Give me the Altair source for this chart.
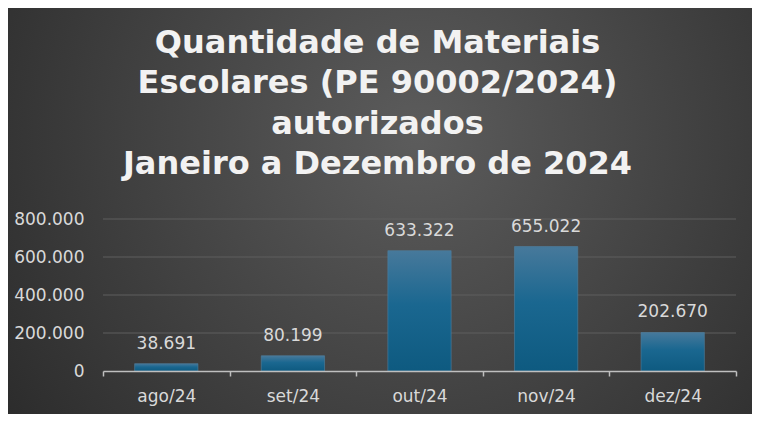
import altair as alt
import pandas as pd

months = ["ago/24", "set/24", "out/24", "nov/24", "dez/24"]
values = [38691, 80199, 633322, 655022, 202670]
y_ticks = [0, 200000, 400000, 600000, 800000]
title_lines = [
    "Quantidade de Materiais",
    "Escolares (PE 90002/2024)",
    "autorizados",
    "Janeiro a Dezembro de 2024",
]

df = pd.DataFrame({"mes": months, "qtd": values})
grid_df = pd.DataFrame({"qtd": y_ticks[1:]})

W, H = 633, 152
PAD = {"left": 95, "top": 211, "right": 16, "bottom": 43}


def x_enc():
    return alt.X(
        "mes:N",
        sort=months,
        scale=alt.Scale(paddingInner=0, paddingOuter=0),
        axis=alt.Axis(
            title=None,
            labelAngle=0,
            tickBand="extent",
            domainColor="#bfbfbf",
            domainWidth=1.5,
            tickColor="#bfbfbf",
            tickWidth=1.5,
            tickSize=5,
            labelColor="#d9d9d9",
            labelFontSize=17,
            labelFont="DejaVu Sans",
            labelPadding=12,
            grid=False,
            zindex=1,
        ),
    )


def y_enc():
    return alt.Y(
        "qtd:Q",
        scale=alt.Scale(domain=[0, 800000], nice=False),
        axis=alt.Axis(
            title=None,
            values=y_ticks,
            format=",d",
            domain=False,
            ticks=False,
            grid=False,
            labelOverlap=False,
            labelColor="#d9d9d9",
            labelFontSize=17,
            labelFont="DejaVu Sans",
            labelPadding=19,
            zindex=1,
        ),
    )


bg = alt.Chart(pd.DataFrame({"a": [0]})).mark_rect(
    fill=alt.RadialGradient(
        gradient="radial",
        x1=0.55, y1=0.4, r1=0,
        x2=0.55, y2=0.4, r2=0.75,
        stops=[
            alt.GradientStop(color="#5c5c5c", offset=0),
            alt.GradientStop(color="#262626", offset=1),
        ],
    )
).encode(
    x=alt.value(-PAD["left"]),
    x2=alt.value(W + PAD["right"]),
    y=alt.value(-PAD["top"]),
    y2=alt.value(H + PAD["bottom"]),
)

grid = alt.Chart(grid_df).mark_rule(color="#5e5e5e", strokeWidth=1).encode(
    y=y_enc()
)

bars = alt.Chart(df).mark_bar(
    width=alt.RelativeBandSize(0.5),
    fill=alt.LinearGradient(
        gradient="linear",
        x1=0, y1=0, x2=0, y2=1,
        stops=[
            alt.GradientStop(color="#47799b", offset=0),
            alt.GradientStop(color="#1a6790", offset=0.45),
            alt.GradientStop(color="#0e5a80", offset=1),
        ],
    ),
    stroke="#4f7f9f",
    strokeWidth=0.6,
).encode(x=x_enc(), y=y_enc())

labels = alt.Chart(df).mark_text(
    dy=-15,
    baseline="alphabetic",
    fontSize=17,
    font="DejaVu Sans",
    color="#d9d9d9",
).encode(
    x=x_enc(),
    y=y_enc(),
    text=alt.Text("qtd:Q", format=",d"),
)

chart = alt.layer(bg, grid, bars, labels).properties(
    width=W,
    height=H,
    padding=PAD,
    autosize=alt.AutoSizeParams(type="none"),
    background="#333333",
    title=alt.TitleParams(
        text=title_lines,
        font="DejaVu Sans",
        fontSize=32,
        fontWeight="bold",
        color="#f2f2f2",
        lineHeight=40.5,
        anchor="middle",
        offset=0,
        dx=-42,
        dy=173,
    ),
).configure_view(stroke=None).configure(
    locale={"number": {"decimal": ",", "thousands": ".", "grouping": [3], "currency": ["R$", ""]}}
)

chart.save("out.html", embed_options={"renderer": "svg", "actions": False})
